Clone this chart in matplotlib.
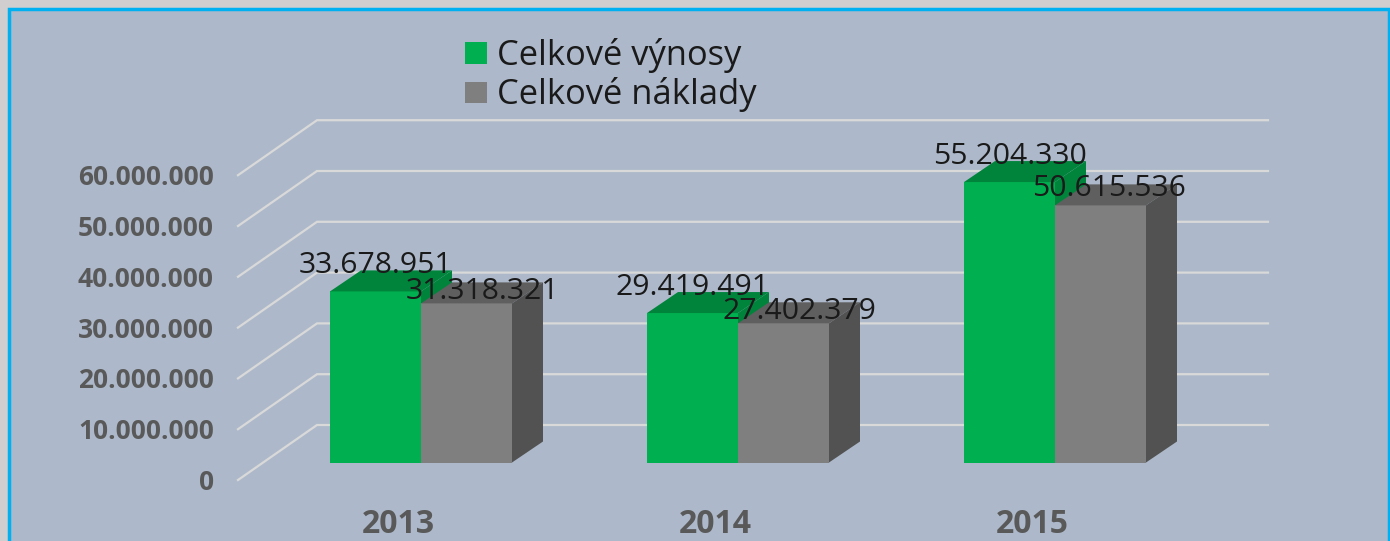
import numpy as np
import matplotlib
matplotlib.use("Agg")
import matplotlib.pyplot as plt
from matplotlib.patches import Polygon, Rectangle

years = ["2013", "2014", "2015"]
vynosy = [33678951, 29419491, 55204330]
naklady = [31318321, 27402379, 50615536]
vynosy_labels = ["33.678.951", "29.419.491", "55.204.330"]
naklady_labels = ["31.318.321", "27.402.379", "50.615.536"]
ticks = [0, 10000000, 20000000, 30000000, 40000000, 50000000, 60000000]
tick_labels = ["0", "10.000.000", "20.000.000", "30.000.000", "40.000.000", "50.000.000", "60.000.000"]
legend_names = ["Celkové výnosy", "Celkové náklady"]

W, H = 1390, 541
PX_X = 317.0            # pixels per category
PX_Y = 5.08 / 1e6       # pixels per unit of value
X0, Y0 = 421.0, 462.5   # pixel of category 0 / value 0


def px_w(p):
    return p / PX_X


def px_h(p):
    return p / PX_Y


fig = plt.figure(figsize=(W / 100, H / 100), dpi=100, facecolor="#d0cece")
ax = fig.add_axes([0, 0, 1, 1])
ax.set_xlim(-X0 / PX_X, (W - X0) / PX_X)
ax.set_ylim(-(H - Y0) / PX_Y, Y0 / PX_Y)
ax.axis("off")

# panel with the blue border, open at the bottom
fig.patches.append(Rectangle((8.5 / W, -0.02), (W - 10) / W, 1 - 8.5 / H + 0.02,
                             transform=fig.transFigure, facecolor="#adb9ca",
                             edgecolor="#00b0f0", linewidth=2.5, zorder=-5))

# gridlines: diagonal on the side wall, then along the back wall
x_front, x_back, x_end = px_w(238 - X0), px_w(317 - X0), px_w(1268 - X0)
for t, lab in zip(ticks, tick_labels):
    y_front = t - px_h(17.5)
    y_back = t + px_h(37.5)
    ax.plot([x_front, x_back, x_end], [y_front, y_back, y_back], color="#d9d9d9",
            lw=1.6, solid_joinstyle="miter", zorder=1)
    ax.text(px_w(214 - X0), t - px_h(20), lab, ha="right", va="center", fontsize=19,
            fontweight="bold", color="#595959", family="Open Sans", zorder=5)

bar_w = px_w(91)
dx, dy = px_w(31), px_h(21)


def box(x, vals, front, top, side):
    for xi, v in zip(x, vals):
        ax.bar(xi, v, bar_w, color=front, zorder=3)
        l, r = xi - bar_w / 2, xi + bar_w / 2
        ax.add_patch(Polygon([(l, v), (r, v), (r + dx, v + dy), (l + dx, v + dy)],
                             facecolor=top, edgecolor="none", zorder=3))
        ax.add_patch(Polygon([(r, 0), (r, v), (r + dx, v + dy), (r + dx, dy)],
                             facecolor=side, edgecolor="none", zorder=3))


pos = np.arange(len(years))
box(pos - bar_w / 2, vynosy, "#00b050", "#00843c", "#00843c")
box(pos + bar_w / 2, naklady, "#7f7f7f", "#5f5f5f", "#525252")

# data labels sit slightly off the bars, as in the source
nudge_x = [16, 16, 8]
nudge_y = [12, 12, 17]
for i in pos:
    ax.text(i - bar_w / 2, vynosy[i] + px_h(26), vynosy_labels[i], ha="center", va="center",
            fontsize=21.7, color="#1a1a1a", family="Open Sans", zorder=6)
    ax.text(i + bar_w / 2 + px_w(nudge_x[i]), naklady[i] + px_h(nudge_y[i]), naklady_labels[i],
            ha="center", va="center", fontsize=21.7, color="#1a1a1a", family="Open Sans", zorder=6)
    ax.text(i - px_w(23), -px_h(62), years[i], ha="center", va="center", fontsize=23,
            fontweight="bold", color="#595959", family="Open Sans", zorder=5)

handles = [Rectangle((0, 0), 1, 1, facecolor="#00b050"), Rectangle((0, 0), 1, 1, facecolor="#7f7f7f")]
fig.legend(handles, legend_names, loc="upper left", bbox_to_anchor=(434 / W, 1 - 7 / H), frameon=False,
           prop={"family": "Open Sans", "size": 24.8}, handlelength=0.64, handleheight=0.58,
           handletextpad=0.3, labelspacing=0.13, labelcolor="#1a1a1a")

fig.savefig("out.png", dpi=100, facecolor=fig.get_facecolor())
